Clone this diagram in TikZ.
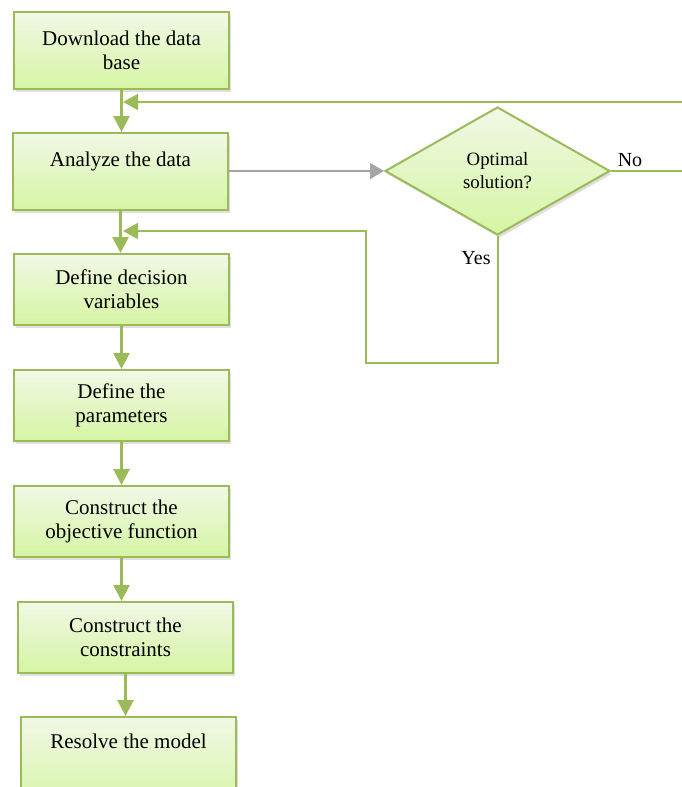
\documentclass[tikz,border=0pt]{standalone}
\usepackage{fontspec}
\setmainfont{Liberation Serif}
\usetikzlibrary{shapes.geometric,arrows.meta,shadows}
\definecolor{edgegreen}{HTML}{9BBB59}
\definecolor{filltop}{HTML}{F1F8E6}
\definecolor{fillbot}{HTML}{D5F5A3}
\definecolor{arrowgray}{HTML}{A5A5A5}
\begin{document}
\begin{tikzpicture}[x=1pt,y=-1pt,
  stepbox/.style={draw=edgegreen, line width=2pt, top color=filltop, bottom color=fillbot,
    minimum width=215pt, minimum height=71pt, inner sep=0pt, align=center,
    font=\fontsize{21}{24}\selectfont,
    drop shadow={opacity=0.25, shadow xshift=2pt, shadow yshift=-3pt}},
  decbox/.style={diamond, draw=edgegreen, line width=2pt, top color=filltop, bottom color=fillbot,
    minimum width=225pt, minimum height=128pt, inner sep=0pt, align=center,
    font=\fontsize{18.8}{23}\selectfont,
    drop shadow={opacity=0.25, shadow xshift=2pt, shadow yshift=-3pt}},
  flow/.style={draw=edgegreen, line width=2.8pt, -{Triangle[length=16pt,width=16pt]}, color=edgegreen},
  loop/.style={draw=edgegreen, line width=2pt, -{Triangle[length=15pt,width=16pt]}, color=edgegreen},
  grayflow/.style={draw=arrowgray, line width=1.6pt, -{Triangle[length=14pt,width=16pt]}, color=arrowgray},
  lbl/.style={font=\fontsize{20}{24}\selectfont, inner sep=0pt}
]
\useasboundingbox (0,0) rectangle (681,787);

\node[stepbox, minimum height=77pt] (b1) at (121.5,50.5) {Download the data\\base};
\node[stepbox, minimum height=77pt] (b2) at (120.5,171.5) {Analyze the data\\\mbox{}};
\node[stepbox] (b3) at (121.5,289.5) {Define decision\\variables};
\node[stepbox] (b4) at (121.5,405.5) {Define the\\parameters};
\node[stepbox] (b5) at (121.5,521.5) {Construct the\\objective function};
\node[stepbox] (b6) at (125.5,637.5) {Construct the\\constraints};
\node[stepbox, minimum height=96pt, anchor=north] (b7) at (128.5,716) {Resolve the model\\\mbox{}\\\mbox{}};

\node[decbox] (dec) at (497.5,171) {Optimal\\solution?};

\node[lbl] (no) at (630,160) {No};
\node[lbl] (yes) at (476,258) {Yes};

\coordinate (fbin) at (123,102);
\coordinate (yesin) at (123,231);

\draw[flow] (b1.south) -- (b1.south |- b2.north);
\draw[flow] (b2.south) -- (b2.south |- b3.north);
\draw[flow] (b3.south) -- (b3.south |- b4.north);
\draw[flow] (b4.south) -- (b4.south |- b5.north);
\draw[flow] (b5.south) -- (b5.south |- b6.north);
\draw[flow] (b6.south) -- (b6.south |- b7.north);

\draw[grayflow] (b2.east |- dec.west) -- (dec.west);
\draw[loop] (dec.east) -- (700,171) -- (700,102) -- (fbin);
\draw[loop] (dec.south) -- (497.5,363) -| (366,231) -- (yesin);
\end{tikzpicture}
\end{document}
